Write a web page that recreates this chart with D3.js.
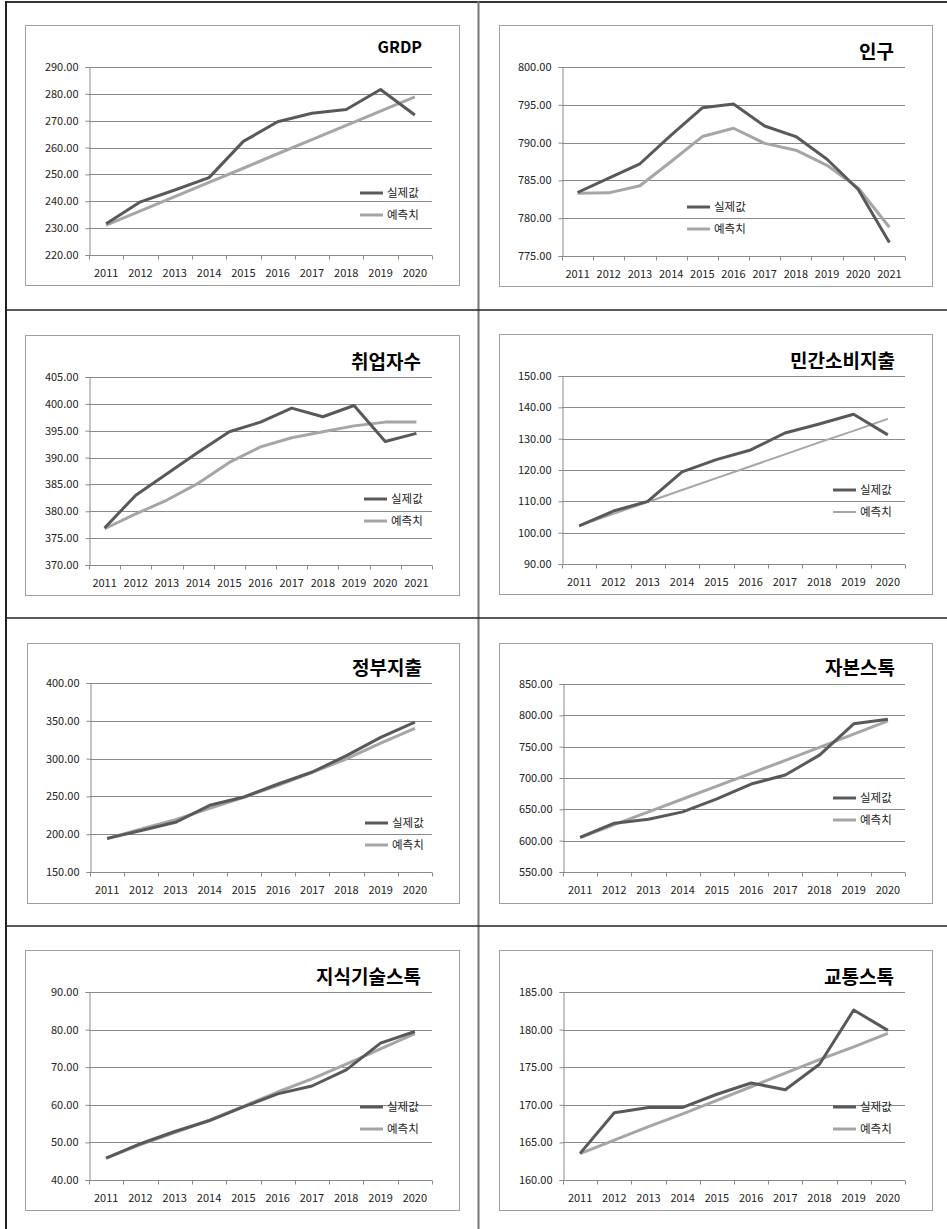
<!DOCTYPE html>
<html><head><meta charset="utf-8">
<script src="https://cdn.jsdelivr.net/npm/d3@7"></script>
<style>body{margin:0;background:#fff}svg{display:block}</style>
</head><body>
<script>
// ---------- data ----------
const years10 = ["2011","2012","2013","2014","2015","2016","2017","2018","2019","2020"];
const years11 = ["2011","2012","2013","2014","2015","2016","2017","2018","2019","2020","2021"];
const seriesNames = ["실제값","예측치"];

const titleGRDP = "GRDP";
const ticksGRDP = [220,230,240,250,260,270,280,290];
const actualGRDP = [231.6,239.8,244.2,248.8,262.3,269.6,272.8,274.2,281.6,272.1];
const forecastGRDP = [231.1,236.4,241.7,247.0,252.3,257.7,263.0,268.3,273.6,278.9];

const titlePop = "인구";
const ticksPop = [775,780,785,790,795,800];
const actualPop = [783.4,785.3,787.2,791.0,794.6,795.1,792.2,790.8,787.8,783.8,776.8];
const forecastPop = [783.3,783.35,784.3,787.5,790.8,791.9,789.9,789.0,787.0,784.0,778.8];

const titleEmp = "취업자수";
const ticksEmp = [370,375,380,385,390,395,400,405];
const actualEmp = [376.9,383.0,387.0,391.0,394.8,396.6,399.2,397.6,399.7,393.0,394.5];
const forecastEmp = [376.75,379.5,382.1,385.2,389.1,392.0,393.7,394.8,395.9,396.6,396.6];

const titleCons = "민간소비지출";
const ticksCons = [90,100,110,120,130,140,150];
const actualCons = [102.2,106.9,110.0,119.4,123.3,126.4,131.8,134.7,137.8,131.2];
const forecastCons = [102.2,106.0,109.8,113.6,117.4,121.2,125.0,128.8,132.5,136.3];

const titleGov = "정부지출";
const ticksGov = [150,200,250,300,350,400];
const actualGov = [194.5,205.0,215.7,238.2,249.2,266.4,282.3,303.9,328.0,348.4];
const forecastGov = [194.0,206.9,219.2,234.2,248.8,264.6,281.8,299.5,320.6,340.0];

const titleCap = "자본스톡";
const ticksCap = [550,600,650,700,750,800,850];
const actualCap = [605.1,627.9,634.3,645.9,666.6,690.4,704.7,736.5,786.4,793.8];
const forecastCap = [605.0,625.5,646.0,666.5,687.0,707.5,728.0,749.0,770.0,791.0];

const titleKnow = "지식기술스톡";
const ticksKnow = [40,50,60,70,80,90];
const actualKnow = [45.84,49.65,52.9,55.75,59.47,62.9,65.0,69.3,76.4,79.5];
const forecastKnow = [45.8,49.4,52.6,55.9,59.6,63.4,66.9,70.8,74.9,78.9];

const titleTrans = "교통스톡";
const ticksTrans = [160,165,170,175,180,185];
const actualTrans = [163.54,168.94,169.65,169.65,171.4,172.9,172.0,175.4,182.6,179.9];
const forecastTrans = [163.5,165.3,167.1,168.8,170.6,172.4,174.2,176.0,177.7,179.5];

// ---------- layout (positions / styles) ----------
const layouts = [
  {box:[25,25,459,285], plot:[89,67,432,255], tx:422, ty:53, tsize:16, lx:360, ly:193, fw:3},
  {box:[499,25,932,286], plot:[562,67,905,256], tx:894, ty:59, tsize:19, lx:687, ly:207, fw:3},
  {box:[25,335,459,595], plot:[89,377,432,565], tx:421, ty:369, tsize:19, lx:364, ly:499, fw:3},
  {box:[499,334,932,594], plot:[562,376,905,564], tx:895, ty:368, tsize:19, lx:833, ly:490, fw:2},
  {box:[27,643,459,903], plot:[90,683,432,872], tx:422, ty:675, tsize:19, lx:365, ly:823, fw:3},
  {box:[499,643,932,903], plot:[563,684,905,872], tx:895, ty:675, tsize:19, lx:833, ly:798, fw:3},
  {box:[25,950,459,1210], plot:[89,992,432,1180], tx:421, ty:984, tsize:19, lx:360, ly:1107, fw:3},
  {box:[499,950,932,1210], plot:[563,992,905,1180], tx:894, ty:984, tsize:19, lx:833, ly:1107, fw:3}
];

const charts = [
  {title:titleGRDP, cats:years10, ticks:ticksGRDP, actual:actualGRDP, forecast:forecastGRDP},
  {title:titlePop, cats:years11, ticks:ticksPop, actual:actualPop, forecast:forecastPop},
  {title:titleEmp, cats:years11, ticks:ticksEmp, actual:actualEmp, forecast:forecastEmp},
  {title:titleCons, cats:years10, ticks:ticksCons, actual:actualCons, forecast:forecastCons},
  {title:titleGov, cats:years10, ticks:ticksGov, actual:actualGov, forecast:forecastGov},
  {title:titleCap, cats:years10, ticks:ticksCap, actual:actualCap, forecast:forecastCap},
  {title:titleKnow, cats:years10, ticks:ticksKnow, actual:actualKnow, forecast:forecastKnow},
  {title:titleTrans, cats:years10, ticks:ticksTrans, actual:actualTrans, forecast:forecastTrans}
];

const W = 947, H = 1229;
const FONT = "'Noto Sans CJK KR','Noto Sans',sans-serif";
const darkC = "#595959", lightC = "#a6a6a6", gridC = "#8a8a8a";

const svg = d3.select("body").append("svg").attr("width", W).attr("height", H)
  .style("font-family", FONT);

// outer table borders
const frame = svg.append("g");
frame.append("line").attr("x1",6).attr("x2",W).attr("y1",2).attr("y2",2).attr("stroke","#333").attr("stroke-width",2);
frame.append("line").attr("x1",6).attr("x2",6).attr("y1",1).attr("y2",H).attr("stroke","#222").attr("stroke-width",2);
frame.append("line").attr("x1",478.5).attr("x2",478.5).attr("y1",1).attr("y2",H).attr("stroke","#777").attr("stroke-width",2);
[310,618,926].forEach(y => frame.append("line").attr("x1",6).attr("x2",W).attr("y1",y).attr("y2",y).attr("stroke","#222").attr("stroke-width",1.6));

charts.forEach((c, i) => {
  const L = layouts[i];
  const g = svg.append("g");
  // chart box
  g.append("rect").attr("x",L.box[0]+0.5).attr("y",L.box[1]+0.5)
    .attr("width",L.box[2]-L.box[0]).attr("height",L.box[3]-L.box[1])
    .attr("fill","#fff").attr("stroke","#a0a0a0").attr("stroke-width",1);

  const x = d3.scaleBand().domain(c.cats).range([L.plot[0], L.plot[2]]).padding(0);
  const y = d3.scaleLinear().domain([c.ticks[0], c.ticks[c.ticks.length-1]]).range([L.plot[3], L.plot[1]]);

  // gridlines
  g.append("g").selectAll("line").data(c.ticks.slice(1)).join("line")
    .attr("x1", L.plot[0]).attr("x2", L.plot[2])
    .attr("y1", d => Math.round(y(d))+0.5).attr("y2", d => Math.round(y(d))+0.5)
    .attr("stroke", gridC).attr("stroke-width", 1);

  // y axis
  const yAxis = d3.axisLeft(y).tickValues(c.ticks).tickFormat(d3.format(".2f")).tickSize(4).tickPadding(7);
  const ya = g.append("g").attr("transform", `translate(${L.plot[0]+0.5},0)`).call(yAxis);
  ya.select(".domain").attr("stroke", gridC);
  ya.selectAll(".tick line").attr("stroke", gridC);
  ya.selectAll("text").attr("fill","#222").style("font-size","11px").style("font-family",FONT);

  // x axis (ticks between categories)
  const xa = g.append("g").attr("transform", `translate(0,${Math.round(y(c.ticks[0]))+0.5})`);
  xa.append("line").attr("x1",L.plot[0]).attr("x2",L.plot[2]).attr("stroke",gridC);
  const bounds = c.cats.map(d => x(d)).concat([L.plot[2]]);
  xa.selectAll("line.tk").data(bounds).join("line").attr("class","tk")
    .attr("x1", d => Math.round(d)+0.5).attr("x2", d => Math.round(d)+0.5)
    .attr("y1",0).attr("y2",4).attr("stroke",gridC);
  xa.selectAll("text").data(c.cats).join("text")
    .attr("x", d => x(d) + x.bandwidth()/2).attr("y", 21)
    .attr("text-anchor","middle").attr("fill","#222")
    .style("font-size","11px").text(d => d);

  // lines
  const line = d3.line().x((d,j) => x(c.cats[j]) + x.bandwidth()/2).y(d => y(d));
  g.append("path").datum(c.forecast).attr("d", line).attr("fill","none")
    .attr("stroke", lightC).attr("stroke-width", L.fw).attr("stroke-linejoin","round");
  g.append("path").datum(c.actual).attr("d", line).attr("fill","none")
    .attr("stroke", darkC).attr("stroke-width", 3).attr("stroke-linejoin","round");

  // title
  g.append("text").attr("x", L.tx).attr("y", L.ty).attr("text-anchor","end")
    .style("font-size", L.tsize+"px").style("font-weight","bold").attr("fill","#000")
    .text(c.title);

  // legend
  const leg = g.append("g");
  const legColors = [darkC, lightC];
  const legWidths = [3, L.fw];
  seriesNames.forEach((s, k) => {
    const ly = L.ly + k*22;
    leg.append("line").attr("x1", L.lx).attr("x2", L.lx+23).attr("y1", ly).attr("y2", ly)
      .attr("stroke", legColors[k]).attr("stroke-width", legWidths[k]);
    leg.append("text").attr("x", L.lx+27).attr("y", ly+4).attr("fill","#222")
      .style("font-size","11.5px").text(s);
  });
});
</script>
</body></html>
